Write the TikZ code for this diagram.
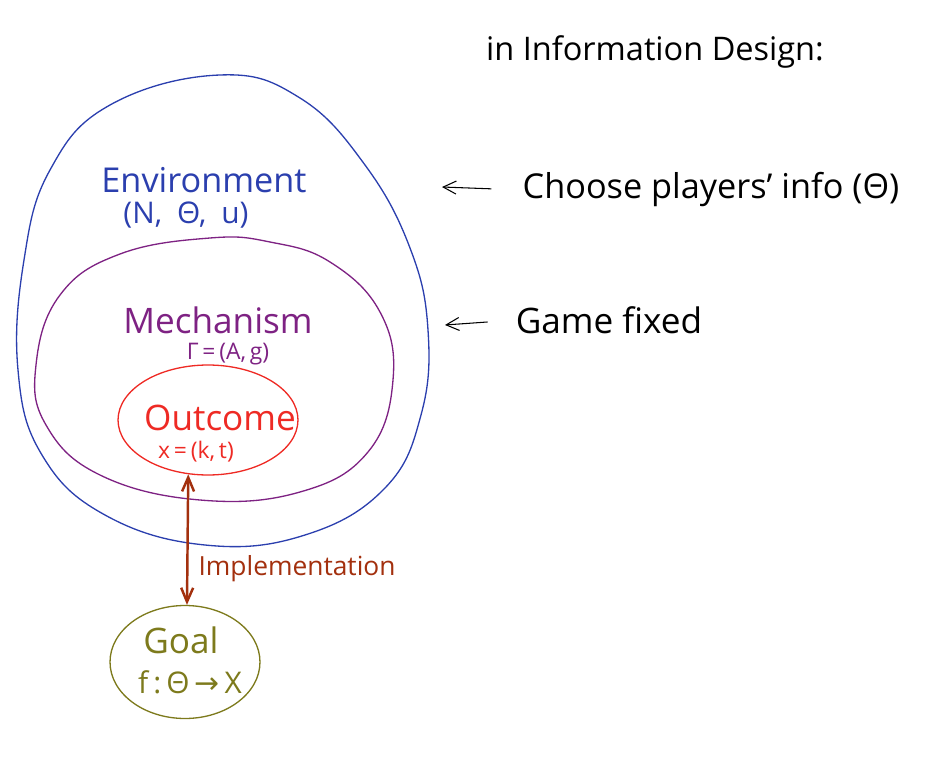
\documentclass[tikz,border=0pt]{standalone}
\usepackage{fontspec}
\setmainfont{Open Sans}
\newfontfamily\symfont{DejaVu Sans}
\usepackage{tikz}
\usetikzlibrary{positioning,arrows.meta,shapes.geometric,calc}
\definecolor{cenv}{HTML}{2B3FAE}
\definecolor{cmech}{HTML}{7E2283}
\definecolor{cout}{HTML}{EE2A24}
\definecolor{cgoal}{HTML}{7D7A1C}
\definecolor{cimpl}{HTML}{A3300E}
\newcommand{\fs}[1]{\fontsize{#1}{#1}\selectfont}
\tikzset{
  blob/.style={draw, line width=0.75pt},
  oval/.style={draw, ellipse, line width=0.75pt, inner sep=0pt},
  big/.style={font=\fs{20}, inner sep=0pt},
  small/.style={font=\fs{14}, inner sep=0pt},
  note/.style={font=\fs{18}, inner sep=0pt},
  pointer/.style={{Straight Barb[length=2.6mm,width=2.6mm]}-, line width=0.6pt},
  impl/.style={{Straight Barb[length=2.8mm,width=2.4mm]}-{Straight Barb[length=2.8mm,width=2.4mm]}, line width=1.4pt, cimpl},
}

\begin{document}
\begin{tikzpicture}[x=0.02cm, y=-0.02cm]
      \useasboundingbox (0,0) rectangle (930,757);
      % nested sets
      \draw[blob, cenv] plot[smooth cycle, tension=0.7] coordinates {(220,75) (110,105) (50,170) (24,260) (18,370) (42,455) (105,515) (205,545) (305,535) (385,488) (421,415) (428,330) (410,248) (365,165) (300,98)};
      \draw[blob, cmech] plot[smooth cycle, tension=0.7] coordinates {(210,238) (120,254) (60,295) (36,365) (46,425) (100,475) (200,500) (300,492) (368,452) (393,380) (380,312) (330,262) (270,242)};
      \node[oval, cout, minimum width=3.6cm, minimum height=2.2cm] (outcome) at (208,420) {};
      \node[oval, cgoal, minimum width=3cm, minimum height=2.26cm] (goal) at (185,662) {};
      \node[big, cenv, font=\fs{19.5}] (env) at (204,180) {Environment};
      \node[small, cenv, font=\fs{17}] (envtup) at (186,215) {(N,\enspace Θ,\enspace u)};
      \node[big, cmech] (mech) at (218,320) {Mechanism};
      \node[small, cmech, font=\fs{13}] (mechtup) at (228,354) {Γ\,=\,(A,\,g)};
      \node[big, cout] (out) at (220,418) {Outcome};
      \node[small, cout, font=\fs{13}] (outtup) at (196,452) {x\,=\,(k,\,t)};
      \node[big, cgoal] (goallbl) at (181,640) {Goal};
      \node[small, cgoal, font=\fs{17}] (goalmap) at (190,682) {f\,:\,Θ\,{\symfont →}\,X};
      \draw[impl] (outcome.250) -- (goal.88) node[pos=0.72, right=0.2cm, font=\fs{15}, inner sep=0pt] (impllbl) {Implementation};
      % right side
      \node[note, font=\fs{18.5}] (title) at (655,52) {in Information Design:};
      \node[note, font=\fs{19.5}] (choose) at (711,190) {Choose players' info (Θ)};
      \node[note, font=\fs{20}] (fixed) at (609,320) {Game fixed};
      \coordinate (envside) at (442,187);
      \coordinate (mechside) at (445,325);
      \draw[pointer, shorten >=0.62cm] (envside) -- (choose.west);
      \draw[pointer, shorten >=0.56cm] (mechside) -- (fixed.west);
    \end{tikzpicture}
\end{document}
